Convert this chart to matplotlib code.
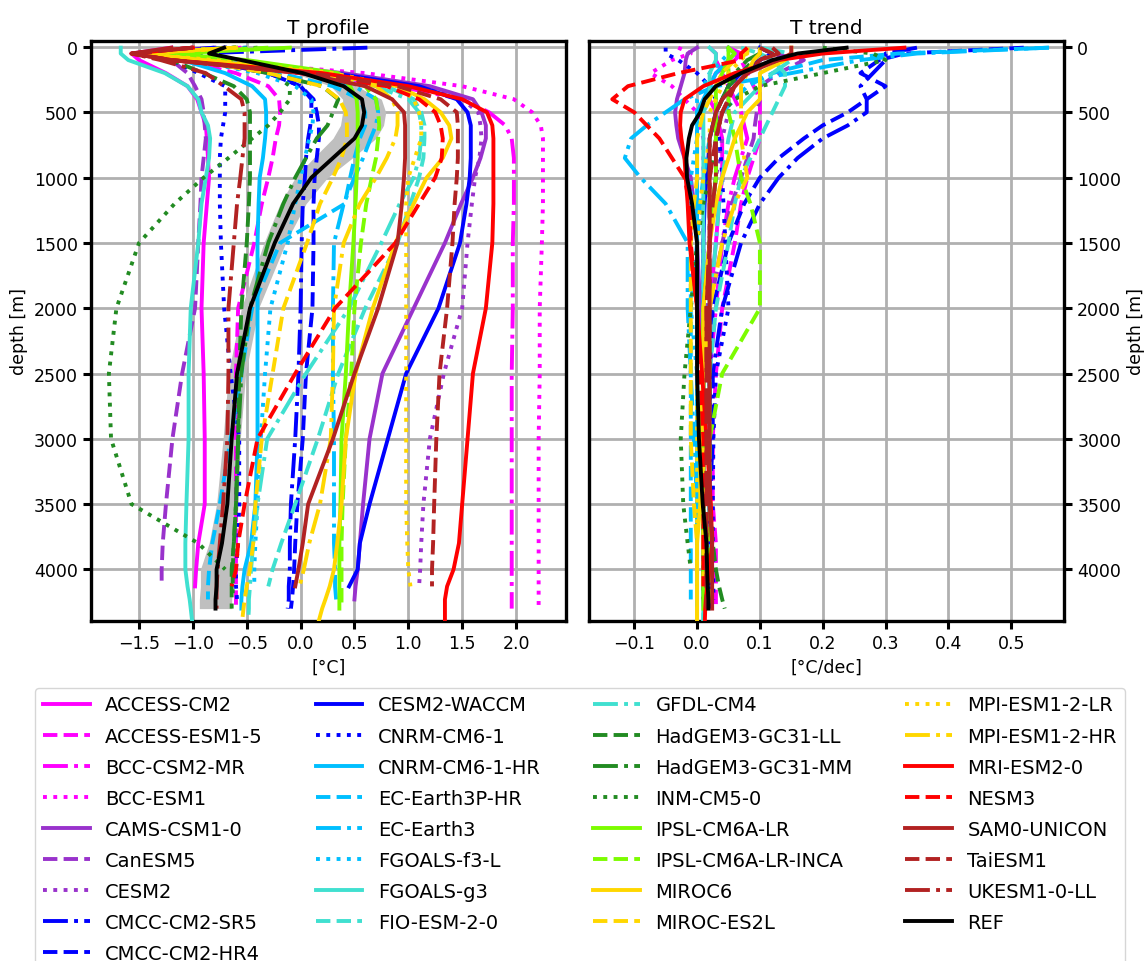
import matplotlib
matplotlib.use('Agg')
import matplotlib.pyplot as plt
import numpy as np

N = None
depth = [5, 50, 100, 200, 300, 400, 500, 600, 700, 850, 1000, 1200, 1500, 2000, 2500, 3000, 3500, 3800,
         4000, 4130, 4230, 4300, 4450]

models = ['ACCESS-CM2', 'ACCESS-ESM1-5', 'BCC-CSM2-MR', 'BCC-ESM1', 'CAMS-CSM1-0', 'CanESM5', 'CESM2',
          'CMCC-CM2-SR5', 'CMCC-CM2-HR4', 'CESM2-WACCM', 'CNRM-CM6-1', 'CNRM-CM6-1-HR', 'EC-Earth3P-HR',
          'EC-Earth3', 'FGOALS-f3-L', 'FGOALS-g3', 'FIO-ESM-2-0', 'GFDL-CM4', 'HadGEM3-GC31-LL',
          'HadGEM3-GC31-MM', 'INM-CM5-0', 'IPSL-CM6A-LR', 'IPSL-CM6A-LR-INCA', 'MIROC6', 'MIROC-ES2L',
          'MPI-ESM1-2-LR', 'MPI-ESM1-2-HR', 'MRI-ESM2-0', 'NESM3', 'SAM0-UNICON', 'TaiESM1', 'UKESM1-0-LL', 'REF']

colors = ['magenta', 'magenta', 'magenta', 'magenta', 'darkorchid', 'darkorchid', 'darkorchid',
          'blue', 'blue', 'blue', 'blue', 'deepskyblue', 'deepskyblue', 'deepskyblue', 'deepskyblue',
          'turquoise', 'turquoise', 'turquoise', 'forestgreen', 'forestgreen', 'forestgreen',
          'lawngreen', 'lawngreen', 'gold', 'gold', 'gold', 'gold', 'red', 'red',
          'firebrick', 'firebrick', 'firebrick', 'black']
styles = ['-', '--', '-.', ':', '-', '--', ':', '-.', '--', '-', ':', '-', '--', '-.', ':',
          '-', '--', '-.', '--', '-.', ':', '-', '--', '-', '--', ':', '-.', '-', '--', '-', '--', '-.', '-']

# temperature profiles [degC]
t_prof = {
    'ACCESS-CM2': [-1.2, -1.57, -1.5, -1.25, -1.05, -0.96, -0.92, -0.88, -0.87, -0.86, -0.85, -0.87, -0.9, -0.92, -0.9, -0.89, -0.89, -0.95, -0.97, -0.98, N, N, N],
    'ACCESS-ESM1-5': [-1.0, -1.5, -1.1, -0.6, -0.3, -0.2, -0.19, -0.2, -0.23, -0.26, -0.3, -0.36, -0.43, -0.58, -0.6, -0.6, -0.6, -0.6, -0.6, -0.6, -0.6, -0.6, N],
    'BCC-CSM2-MR': [-0.55, -1.5, -1.0, 0.0, 0.9, 1.5, 1.75, 1.9, 1.96, 1.98, 1.98, 1.98, 1.97, 1.97, 1.96, 1.96, 1.96, 1.96, 1.96, 1.96, 1.96, 1.96, N],
    'BCC-ESM1': [-0.6, -1.5, -0.9, 0.6, 1.5, 1.98, 2.15, 2.23, 2.25, 2.25, 2.25, 2.25, 2.24, 2.22, 2.22, 2.21, 2.21, 2.21, 2.21, 2.21, 2.21, 2.21, N],
    'CAMS-CSM1-0': [-0.8, -1.5, -0.9, 0.4, 1.2, 1.6, 1.68, 1.72, 1.72, 1.67, 1.6, 1.49, 1.34, 1.05, 0.76, 0.64, 0.58, 0.55, 0.53, 0.51, 0.5, N, N],
    'CanESM5': [-1.0, -1.55, -1.2, -1.05, -0.98, -0.92, -0.9, -0.89, -0.88, -0.9, -0.92, -0.93, -0.95, -0.98, -1.1, -1.19, -1.25, -1.28, -1.29, -1.29, N, N, N],
    'CESM2': [-0.7, -1.5, -0.9, 0.3, 1.1, 1.5, 1.65, 1.67, 1.68, 1.66, 1.62, 1.59, 1.55, 1.5, 1.33, 1.2, 1.14, 1.12, 1.11, 1.1, N, N, N],
    'CMCC-CM2-SR5': [0.62, -1.0, -0.9, -0.3, 0.0, 0.1, 0.1, 0.09, 0.07, 0.05, 0.04, 0.02, 0.01, 0.0, -0.02, -0.05, -0.09, -0.1, -0.1, -0.11, -0.11, -0.12, N],
    'CMCC-CM2-HR4': [-0.8, -1.5, -1.0, -0.3, 0.0, 0.12, 0.15, 0.17, 0.17, 0.15, 0.13, 0.12, 0.12, 0.11, 0.05, 0.02, -0.03, -0.05, -0.06, -0.07, -0.08, -0.09, N],
    'CESM2-WACCM': [-0.7, -1.5, -0.9, 0.3, 1.1, 1.45, 1.55, 1.58, 1.58, 1.58, 1.57, 1.54, 1.48, 1.28, 0.98, 0.81, 0.64, 0.55, 0.53, 0.45, N, N, N],
    'CNRM-CM6-1': [-0.5, -1.5, -1.2, -0.95, -0.7, -0.7, -0.7, -0.72, -0.74, -0.75, -0.75, -0.75, -0.74, -0.71, -0.65, -0.57, -0.57, -0.58, -0.6, -0.6, -0.59, N, N],
    'CNRM-CM6-1-HR': [-0.6, -1.5, -1.1, -0.7, -0.45, -0.33, -0.32, -0.32, -0.33, -0.35, -0.38, -0.39, -0.4, -0.4, -0.4, -0.4, -0.42, -0.46, -0.52, -0.54, -0.55, -0.55, N],
    'EC-Earth3P-HR': [-0.6, -1.5, -1.0, -0.2, 0.3, 0.55, 0.6, 0.6, 0.55, 0.5, 0.46, 0.41, -0.19, -0.45, -0.55, -0.65, -0.75, -0.82, -0.85, -0.86, -0.86, N, N],
    'EC-Earth3': [-0.6, -1.5, -0.9, 0.1, 0.5, 0.7, 0.72, 0.7, 0.65, 0.58, 0.5, 0.4, 0.31, 0.3, 0.3, 0.31, 0.31, 0.31, 0.32, 0.32, 0.33, N, N],
    'FGOALS-f3-L': [-0.5, -1.5, -1.0, -0.4, -0.05, 0.1, 0.12, 0.11, 0.08, 0.04, 0.0, -0.05, -0.12, -0.28, -0.33, -0.37, -0.4, -0.42, -0.43, -0.43, N, N, N],
    'FGOALS-g3': [-1.67, -1.67, -1.6, -1.26, -1.05, -0.95, -0.92, -0.86, -0.84, -0.85, -0.88, -0.92, -0.95, -1.02, -1.04, -1.04, -1.06, -1.07, -1.07, -1.05, -1.03, -1.02, -1.0],
    'FIO-ESM-2-0': [-0.6, -1.5, -0.9, 0.3, 0.8, 1.05, 1.12, 1.15, 1.15, 1.14, 1.1, 1.02, 0.9, 0.6, 0.35, 0.16, -0.05, -0.18, -0.26, -0.3, N, N, N],
    'GFDL-CM4': [-0.6, -1.5, -0.9, 0.2, 0.7, 1.0, 1.1, 1.12, 1.12, 1.1, 1.05, 0.92, 0.75, 0.45, 0.05, -0.31, -0.4, -0.44, -0.46, -0.47, -0.48, -0.48, -0.49],
    'HadGEM3-GC31-LL': [-0.6, -1.5, -1.2, -0.9, -0.62, -0.5, -0.47, -0.47, -0.47, -0.47, -0.47, -0.48, -0.5, -0.55, -0.57, -0.58, -0.6, -0.62, -0.64, -0.64, -0.64, -0.64, N],
    'HadGEM3-GC31-MM': [-0.6, -1.5, -1.0, -0.3, 0.2, 0.35, 0.3, 0.25, 0.15, 0.05, -0.05, -0.16, -0.3, -0.47, -0.55, -0.58, -0.6, -0.62, -0.63, -0.63, -0.63, N, N],
    'INM-CM5-0': [-0.4, -1.2, -0.7, -0.25, -0.1, -0.1, -0.19, -0.3, -0.45, -0.67, -0.9, -1.17, -1.5, -1.71, -1.78, -1.76, -1.57, -0.95, -0.7, N, N, N, N],
    'IPSL-CM6A-LR': [-0.1, -1.2, -0.5, 0.35, 0.46, 0.52, 0.53, 0.53, 0.53, 0.53, 0.52, 0.51, 0.49, 0.45, 0.42, 0.38, 0.37, 0.36, 0.36, 0.36, 0.36, 0.36, N],
    'IPSL-CM6A-LR-INCA': [-0.3, -1.3, -0.6, 0.3, 0.6, 0.7, 0.72, 0.73, 0.72, 0.7, 0.66, 0.61, 0.56, 0.5, 0.47, 0.42, 0.39, 0.38, 0.38, 0.38, 0.38, 0.38, N],
    'MIROC6': [-0.6, -1.5, -0.9, 0.2, 0.9, 1.15, 1.3, 1.38, 1.4, 1.32, 1.17, 1.05, 0.88, 0.67, 0.51, 0.42, 0.38, 0.34, 0.31, 0.27, 0.23, 0.2, 0.15],
    'MIROC-ES2L': [-0.6, -1.5, -1.0, -0.3, 0.2, 0.36, 0.42, 0.43, 0.43, 0.38, 0.3, 0.18, 0.06, -0.16, -0.26, -0.36, -0.42, -0.44, -0.47, -0.5, -0.52, -0.53, -0.55],
    'MPI-ESM1-2-LR': [-0.6, -1.5, -0.8, 0.3, 0.9, 1.05, 1.1, 1.12, 1.12, 1.06, 1.0, 0.98, 0.98, 0.98, 0.98, 0.98, 0.98, 0.99, 1.0, 1.02, N, N, N],
    'MPI-ESM1-2-HR': [-0.6, -1.5, -0.9, 0.2, 0.7, 0.85, 0.9, 0.9, 0.88, 0.8, 0.7, 0.55, 0.4, 0.31, 0.3, 0.28, 0.18, 0.08, 0.03, -0.01, N, N, N],
    'MRI-ESM2-0': [-1.0, -1.57, -1.2, 0.2, 1.0, 1.5, 1.73, 1.78, 1.79, 1.79, 1.79, 1.79, 1.78, 1.72, 1.6, 1.55, 1.5, 1.47, 1.42, 1.36, 1.34, 1.34, 1.34],
    'NESM3': [-1.0, -1.57, -1.2, 0.0, 0.8, 1.1, 1.25, 1.3, 1.32, 1.31, 1.25, 1.1, 0.88, 0.32, -0.05, -0.4, -0.52, -0.58, -0.6, -0.64, N, N, N],
    'SAM0-UNICON': [-1.2, -1.57, -1.2, 0.0, 0.6, 0.85, 0.96, 0.97, 0.97, 0.97, 0.96, 0.94, 0.9, 0.72, 0.5, 0.3, 0.07, 0.02, -0.02, -0.05, N, N, N],
    'TaiESM1': [-1.0, -1.57, -1.2, 0.1, 0.9, 1.3, 1.45, 1.46, 1.46, 1.46, 1.45, 1.43, 1.41, 1.36, 1.29, 1.26, 1.24, 1.23, 1.22, 1.22, N, N, N],
    'UKESM1-0-LL': [-1.0, -1.57, -1.3, -0.88, -0.71, -0.55, -0.52, -0.52, -0.52, -0.54, -0.56, -0.59, -0.62, -0.67, -0.67, -0.68, -0.72, -0.75, -0.77, -0.78, -0.78, -0.78, N],
    'REF': [-0.71, -0.85, -0.55, 0.02, 0.4, 0.57, 0.59, 0.57, 0.5, 0.3, 0.1, -0.07, -0.24, -0.47, -0.59, -0.64, -0.68, -0.73, -0.78, -0.78, -0.79, -0.79, N],
}
ref_std = [0.05, 0.05, 0.05, 0.08, 0.12, 0.18, 0.2, 0.2, 0.2, 0.18, 0.15, 0.12, 0.1, 0.08, 0.08, 0.08, 0.1, 0.12, 0.15, 0.15, 0.15, 0.15, N]

# temperature trends [degC/dec]
t_trend = {
    'ACCESS-CM2': [0.05, 0.07, 0.06, 0.03, 0.02, 0.02, 0.03, 0.035, 0.04, 0.04, 0.04, 0.035, 0.03, 0.02, 0.02, 0.02, 0.02, 0.02, 0.02, 0.02, N, N, N],
    'ACCESS-ESM1-5': [0.05, 0.06, 0.07, 0.08, 0.09, 0.1, 0.1, 0.1, 0.1, 0.09, 0.08, 0.07, 0.06, 0.04, 0.03, 0.025, 0.025, 0.03, 0.03, 0.03, 0.03, 0.03, N],
    'BCC-CSM2-MR': [0.02, 0.03, 0.03, 0.04, 0.05, 0.06, 0.07, 0.075, 0.08, 0.07, 0.06, 0.05, 0.04, 0.03, 0.02, 0.02, 0.02, 0.02, 0.02, 0.02, 0.02, 0.02, N],
    'BCC-ESM1': [-0.03, -0.01, -0.04, -0.074, -0.04, -0.02, 0.0, 0.005, 0.01, 0.01, 0.01, 0.01, 0.01, 0.01, 0.01, 0.01, 0.01, 0.01, 0.01, 0.01, 0.01, 0.01, N],
    'CAMS-CSM1-0': [0.0, -0.015, -0.018, -0.02, -0.026, -0.032, -0.035, -0.033, -0.03, -0.02, -0.01, -0.005, 0.0, 0.005, 0.01, 0.01, 0.01, 0.01, 0.01, 0.01, 0.01, N, N],
    'CanESM5': [0.1, 0.12, 0.17, 0.13, 0.1, 0.1, 0.095, 0.092, 0.09, 0.08, 0.07, 0.055, 0.04, 0.02, 0.01, 0.01, 0.01, 0.01, 0.01, 0.01, N, N, N],
    'CESM2': [0.1, 0.14, 0.1, 0.07, 0.06, 0.05, 0.05, 0.045, 0.04, 0.035, 0.03, 0.025, 0.02, 0.015, 0.01, 0.01, 0.01, 0.01, 0.01, 0.01, N, N, N],
    'CMCC-CM2-SR5': [0.35, 0.3, 0.3, 0.28, 0.26, 0.27, 0.27, 0.24, 0.2, 0.16, 0.13, 0.1, 0.07, 0.04, 0.025, 0.025, 0.02, 0.02, 0.02, 0.02, 0.02, 0.02, N],
    'CMCC-CM2-HR4': [0.52, 0.33, 0.29, 0.26, 0.3, 0.27, 0.24, 0.2, 0.17, 0.13, 0.1, 0.075, 0.05, 0.025, 0.02, 0.02, 0.02, 0.02, 0.02, 0.02, 0.02, 0.02, N],
    'CESM2-WACCM': [0.1, 0.12, 0.1, 0.07, 0.05, 0.04, 0.03, 0.025, 0.02, 0.018, 0.015, 0.012, 0.01, 0.01, 0.01, 0.01, 0.01, 0.01, 0.01, 0.01, N, N, N],
    'CNRM-CM6-1': [-0.05, -0.05, -0.03, 0.0, 0.02, 0.03, 0.03, 0.032, 0.035, 0.038, 0.04, 0.042, 0.045, 0.05, 0.03, 0.026, 0.025, 0.025, 0.026, 0.026, 0.026, N, N],
    'CNRM-CM6-1-HR': [0.05, 0.06, 0.05, 0.03, 0.02, 0.01, 0.0, 0.0, 0.0, 0.0, 0.0, 0.0, 0.0, 0.0, 0.0, 0.0, 0.0, 0.0, 0.0, 0.0, 0.0, 0.0, N],
    'EC-Earth3P-HR': [0.56, 0.32, 0.2, 0.12, 0.08, 0.06, 0.04, 0.03, 0.02, 0.015, 0.01, 0.005, 0.0, -0.01, -0.01, -0.01, -0.01, -0.01, -0.01, -0.01, -0.01, N, N],
    'EC-Earth3': [0.56, 0.35, 0.26, 0.15, 0.03, -0.02, -0.05, -0.08, -0.105, -0.115, -0.09, -0.05, -0.015, -0.015, -0.01, -0.005, 0.0, 0.0, 0.0, 0.0, 0.0, N, N],
    'FGOALS-f3-L': [0.05, 0.05, 0.04, 0.02, 0.01, 0.0, 0.0, 0.0, 0.0, -0.005, -0.01, -0.01, -0.01, -0.01, 0.0, 0.0, 0.0, 0.0, 0.0, 0.0, N, N, N],
    'FGOALS-g3': [0.02, 0.03, 0.03, 0.02, 0.02, 0.02, 0.01, 0.01, 0.01, 0.01, 0.01, 0.01, 0.01, 0.01, 0.01, 0.01, 0.01, 0.01, 0.01, 0.01, 0.01, 0.01, 0.01],
    'FIO-ESM-2-0': [0.07, 0.1, 0.12, 0.14, 0.14, 0.13, 0.12, 0.11, 0.1, 0.085, 0.07, 0.06, 0.05, 0.03, 0.02, 0.02, 0.02, 0.02, 0.02, 0.02, N, N, N],
    'GFDL-CM4': [0.1, 0.15, 0.15, 0.12, 0.1, 0.08, 0.06, 0.055, 0.05, 0.045, 0.04, 0.035, 0.03, 0.02, 0.01, 0.01, 0.01, 0.01, 0.01, 0.01, 0.01, 0.01, 0.01],
    'HadGEM3-GC31-LL': [0.1, 0.1, 0.09, 0.07, 0.05, 0.04, 0.03, 0.03, 0.03, 0.03, 0.03, 0.025, 0.02, 0.02, 0.02, 0.02, 0.02, 0.025, 0.03, 0.035, 0.04, 0.044, N],
    'HadGEM3-GC31-MM': [0.1, 0.1, 0.08, 0.06, 0.05, 0.04, 0.03, 0.025, 0.02, 0.02, 0.02, 0.02, 0.02, 0.01, 0.01, 0.01, 0.01, 0.01, 0.01, 0.01, 0.01, N, N],
    'INM-CM5-0': [0.2, 0.28, 0.3, 0.2, 0.1, 0.06, 0.04, 0.035, 0.03, 0.025, 0.02, 0.01, 0.0, -0.01, -0.02, -0.026, -0.022, -0.015, -0.01, N, N, N, N],
    'IPSL-CM6A-LR': [0.05, 0.06, 0.05, 0.04, 0.03, 0.03, 0.03, 0.03, 0.03, 0.03, 0.03, 0.025, 0.02, 0.01, 0.01, 0.01, 0.01, 0.01, 0.01, 0.01, 0.01, 0.01, N],
    'IPSL-CM6A-LR-INCA': [0.05, 0.05, 0.05, 0.05, 0.05, 0.05, 0.05, 0.055, 0.06, 0.065, 0.07, 0.085, 0.1, 0.1, 0.04, 0.02, 0.02, 0.02, 0.02, 0.02, 0.02, 0.02, N],
    'MIROC6': [0.15, 0.15, 0.14, 0.1, 0.1, 0.1, 0.08, 0.07, 0.06, 0.05, 0.04, 0.03, 0.02, 0.01, 0.01, 0.005, 0.005, 0.0, 0.0, 0.0, 0.0, 0.0, 0.0],
    'MIROC-ES2L': [0.08, 0.08, 0.06, 0.04, 0.03, 0.02, 0.01, 0.005, 0.0, 0.0, 0.0, -0.005, -0.01, -0.01, -0.01, -0.01, -0.005, 0.0, 0.0, 0.0, 0.0, 0.0, 0.0],
    'MPI-ESM1-2-LR': [0.08, 0.08, 0.07, 0.05, 0.04, 0.03, 0.02, 0.02, 0.02, 0.015, 0.01, 0.005, 0.0, 0.0, 0.0, 0.0, 0.0, 0.0, 0.0, 0.0, N, N, N],
    'MPI-ESM1-2-HR': [0.1, 0.1, 0.09, 0.08, 0.07, 0.07, 0.07, 0.07, 0.07, 0.075, 0.08, 0.06, 0.04, 0.02, 0.01, 0.01, 0.01, 0.01, 0.01, 0.01, N, N, N],
    'MRI-ESM2-0': [0.33, 0.2, 0.13, 0.06, 0.01, -0.02, -0.026, -0.027, -0.025, -0.02, -0.018, -0.015, -0.012, 0.0, 0.008, 0.015, 0.022, 0.024, 0.02, 0.016, 0.014, 0.013, 0.012],
    'NESM3': [0.08, 0.07, 0.07, -0.03, -0.11, -0.135, -0.1, -0.08, -0.06, -0.04, -0.02, -0.012, -0.01, 0.0, 0.005, 0.01, 0.01, 0.01, 0.01, 0.01, N, N, N],
    'SAM0-UNICON': [0.15, 0.15, 0.13, 0.08, 0.06, 0.04, 0.03, 0.025, 0.02, 0.02, 0.02, 0.02, 0.02, 0.02, 0.02, 0.02, 0.02, 0.024, 0.024, 0.024, 0.024, 0.024, N],
    'TaiESM1': [0.1, 0.12, 0.1, 0.08, 0.06, 0.05, 0.04, 0.035, 0.03, 0.025, 0.02, 0.02, 0.02, 0.015, 0.015, 0.015, 0.015, 0.015, 0.015, 0.015, N, N, N],
    'UKESM1-0-LL': [0.12, 0.13, 0.1, 0.08, 0.06, 0.05, 0.04, 0.035, 0.03, 0.03, 0.03, 0.025, 0.02, 0.015, 0.015, 0.015, 0.015, 0.015, 0.015, 0.015, 0.015, 0.015, N],
    'REF': [0.238, 0.16, 0.12, 0.07, 0.03, 0.012, 0.005, -0.008, -0.013, -0.017, -0.016, -0.008, 0.0, 0.0, 0.0, 0.003, 0.009, 0.015, 0.016, 0.017, 0.018, 0.018, N],
}


def arr(v):
    return np.array([np.nan if x is None else x for x in v], dtype=float)


plt.rcParams['font.size'] = 12.5
fig = plt.figure(figsize=(11.44, 9.62), dpi=100)
ax1 = fig.add_axes([91 / 1144, 1 - 622 / 962, 475 / 1144, 580 / 962])
ax2 = fig.add_axes([589 / 1144, 1 - 622 / 962, 475 / 1144, 580 / 962])

d = np.array(depth, dtype=float)
ref = arr(t_prof['REF'])
std = arr(ref_std)
ax1.fill_betweenx(d, ref - std, ref + std, color='0.75', lw=0, zorder=2)

handles = []
for name, c, ls in zip(models, colors, styles):
    lw = 2.8
    z = 5 if name == 'REF' else 3
    h, = ax1.plot(arr(t_prof[name]), d, color=c, ls=ls, lw=lw, label=name, zorder=z)
    ax2.plot(arr(t_trend[name]), d, color=c, ls=ls, lw=lw, zorder=z)
    handles.append(h)

for ax in (ax1, ax2):
    ax.set_ylim(4395, -46)
    ax.set_yticks(np.arange(0, 4001, 500))
    ax.grid(True, color='#b0b0b0', lw=2.0)
    ax.set_axisbelow(True)
    for s in ax.spines.values():
        s.set_linewidth(2.4)
    ax.tick_params(width=2.2, length=6, labelsize=12.5)

ax1.set_xlim(-1.946, 2.464)
ax1.set_xticks([-1.5, -1.0, -0.5, 0.0, 0.5, 1.0, 1.5, 2.0])
ax1.set_title('T profile', fontsize=14.5)
ax1.set_xlabel('[°C]')
ax1.set_ylabel('depth [m]')

ax2.set_xlim(-0.172, 0.584)
ax2.set_xticks([-0.1, 0.0, 0.1, 0.2, 0.3, 0.4, 0.5])
ax2.set_title('T trend', fontsize=14.5)
ax2.set_xlabel('[°C/dec]')
ax2.yaxis.tick_right()
ax2.yaxis.set_label_position('right')
ax2.set_ylabel('depth [m]')

fig.legend(handles=handles, loc='upper center', bbox_to_anchor=(580 / 1144, 1 - 679 / 962), ncol=4,
           fontsize=14, handlelength=2.4, columnspacing=2.7, labelspacing=0.62)

fig.savefig('out.png', dpi=100)
